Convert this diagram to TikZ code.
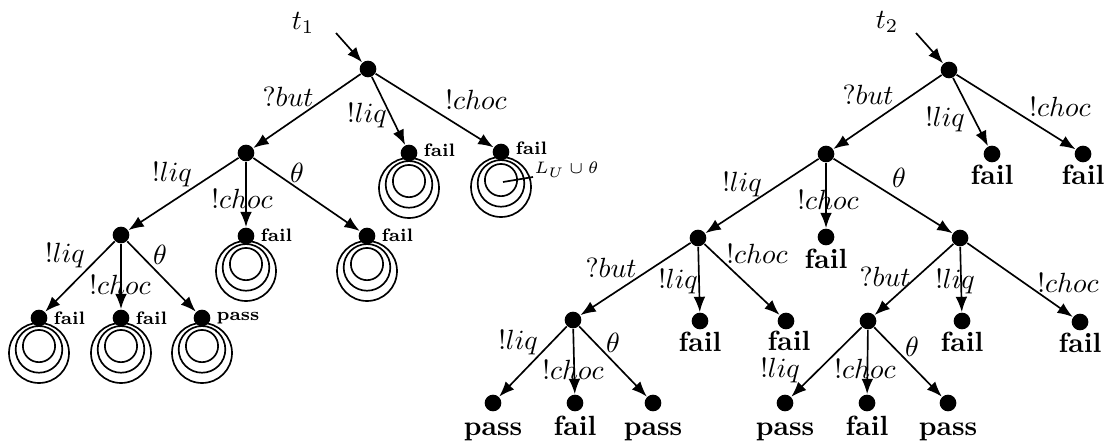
\documentclass[tikz,border=0pt]{standalone}
\usetikzlibrary{arrows.meta,calc}
\begin{document}
\begin{tikzpicture}[x=0.36pt,y=-0.36pt,
  st/.style={circle,fill=black,inner sep=0pt,minimum size=6pt},
  tr/.style={-{Latex[length=5.5pt,width=4.2pt]},line width=0.6pt},
  lab/.style={inner sep=0pt},
  sm/.style={anchor=west,inner sep=0pt,font=\fontsize{6.5}{7}\selectfont\bfseries},
  vd/.style={anchor=base,inner sep=0pt,font=\bfseries},
  lp/.style={line width=0.6pt}
]
\useasboundingbox (0,0) rectangle (1113,445);
% ---------------- t1 ----------------
\node[lab] (t1) at (303,23) {$t_1$};
\coordinate (i1) at (336,33);
\node[st] (r1) at (368,69) {};
\node[st] (n1) at (246,153) {};
\node[st] (a1) at (409,153) {};
\node[st] (a2) at (501,152) {};
\node[st] (n2) at (121,235) {};
\node[st] (a3) at (246,236) {};
\node[st] (a4) at (367,236) {};
\node[st] (a5) at (39,318) {};
\node[st] (a6) at (121,318) {};
\node[st] (a7) at (202,318) {};
\draw[tr] (i1) -- (r1);
\draw[tr] (r1) -- (n1);
\draw[tr] (r1) -- (a1);
\draw[tr] (r1) -- (a2);
\draw[tr] (n1) -- (n2);
\draw[tr] (n1) -- (a3);
\draw[tr] (n1) -- (a4);
\draw[tr] (n2) -- (a5);
\draw[tr] (n2) -- (a6);
\draw[tr] (n2) -- (a7);
\foreach \n in {a1,a2,a3,a4,a5,a6,a7}{
  \foreach \r/\o in {5.8/10.1,8.4/11.3,10.8/12.6}{
    \draw[lp] ([yshift=-\o pt]\n.center) circle[radius=\r pt];
  }
}
\node[sm] (f1) at (423,150) {fail};
\node[sm] (f2) at (515,148) {fail};
\node[sm] (f3) at (260,235) {fail};
\node[sm] (f4) at (381,235) {fail};
\node[sm] (f5) at (53,318) {fail};
\node[sm] (f6) at (135,318) {fail};
\node[sm] (f7) at (216,318) {pass};
\path (a2) ++(2,30) coordinate (lc);
\coordinate (lu) at (533,177);
\node[anchor=west,inner sep=0pt,font=\fontsize{6}{7}\selectfont] (lul) at (534,170) {$L_U\cup\theta$};
\draw[lp] (lc) -- (lu);
\node[lab] (e1) at (288,97) {$?but$};
\node[lab] (e2) at (367,116) {$!liq$};
\node[lab] (e3) at (476,100) {$!choc$};
\node[lab] (e4) at (172,175) {$!liq$};
\node[lab] (e5) at (242,199) {$!choc$};
\node[lab] (e6) at (297,173) {$\theta$};
\node[lab] (e7) at (65,256) {$!liq$};
\node[lab] (e8) at (120,285) {$!choc$};
\node[lab] (e9) at (160,255) {$\theta$};
% ---------------- t2 ----------------
\node[lab] (t2) at (887,22) {$t_2$};
\coordinate (i2) at (916,33);
\node[st] (r2) at (949,70) {};
\node[st] (m1) at (826,154) {};
\node[st] (b1) at (992,154) {};
\node[st] (b2) at (1083,154) {};
\node[st] (m2) at (698,238) {};
\node[st] (b3) at (826,237) {};
\node[st] (m3) at (960,238) {};
\node[st] (m4) at (573,320) {};
\node[st] (b4) at (700,321) {};
\node[st] (b5) at (786,321) {};
\node[st] (m5) at (868,321) {};
\node[st] (b6) at (962,321) {};
\node[st] (b7) at (1080,322) {};
\node[st] (b8) at (493,403) {};
\node[st] (b9) at (575,403) {};
\node[st] (b10) at (653,403) {};
\node[st] (b11) at (785,403) {};
\node[st] (b12) at (867,403) {};
\node[st] (b13) at (948,403) {};
\draw[tr] (i2) -- (r2);
\draw[tr] (r2) -- (m1);
\draw[tr] (r2) -- (b1);
\draw[tr] (r2) -- (b2);
\draw[tr] (m1) -- (m2);
\draw[tr] (m1) -- (b3);
\draw[tr] (m1) -- (m3);
\draw[tr] (m2) -- (m4);
\draw[tr] (m2) -- (b4);
\draw[tr] (m2) -- (b5);
\draw[tr] (m3) -- (m5);
\draw[tr] (m3) -- (b6);
\draw[tr] (m3) -- (b7);
\draw[tr] (m4) -- (b8);
\draw[tr] (m4) -- (b9);
\draw[tr] (m4) -- (b10);
\draw[tr] (m5) -- (b11);
\draw[tr] (m5) -- (b12);
\draw[tr] (m5) -- (b13);
\node[vd] (v1) at (992,185) {fail};
\node[vd] (v2) at (1083,185) {fail};
\node[vd] (v3) at (826,268) {fail};
\node[vd] (v4) at (700,351) {fail};
\node[vd] (v5) at (789,350) {fail};
\node[vd] (v6) at (962,351) {fail};
\node[vd] (v7) at (1080,352) {fail};
\node[vd] (v8) at (493,435) {pass};
\node[vd] (v9) at (575,435) {fail};
\node[vd] (v10) at (653,435) {pass};
\node[vd] (v11) at (785,435) {pass};
\node[vd] (v12) at (867,435) {fail};
\node[vd] (v13) at (948,435) {pass};
\node[lab] (g1) at (868,95) {$?but$};
\node[lab] (g2) at (945,120) {$!liq$};
\node[lab] (g3) at (1060,107) {$!choc$};
\node[lab] (g4) at (742,185) {$!liq$};
\node[lab] (g5) at (828,200) {$!choc$};
\node[lab] (g6) at (899,178) {$\theta$};
\node[lab] (g7) at (611,268) {$?but$};
\node[lab] (g8) at (678,282) {$!liq$};
\node[lab] (g9) at (757,254) {$!choc$};
\node[lab] (g10) at (885,277) {$?but$};
\node[lab] (g11) at (955,282) {$!liq$};
\node[lab] (g12) at (1068,283) {$!choc$};
\node[lab] (g13) at (518,343) {$!liq$};
\node[lab] (g14) at (573,370) {$!choc$};
\node[lab] (g15) at (613,343) {$\theta$};
\node[lab] (g16) at (780,371) {$!liq$};
\node[lab] (g17) at (865,369) {$!choc$};
\node[lab] (g18) at (912,347) {$\theta$};
\end{tikzpicture}
\end{document}
